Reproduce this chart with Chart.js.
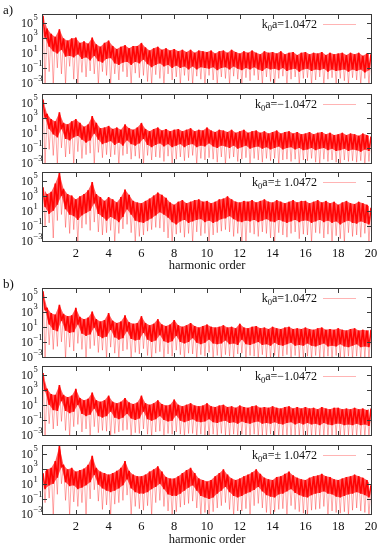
<!DOCTYPE html>
<html>
<head>
<meta charset="utf-8">
<script src="https://cdn.jsdelivr.net/npm/chart.js@4.4.0/dist/chart.umd.min.js"></script>
<style>
  body { margin: 0; background: #fff; width: 380px; height: 550px; position: relative; overflow: hidden; font-family: "Liberation Serif", "DejaVu Serif", serif; color: #111; }
  canvas { position: absolute; left: 0; }
  .txt { position: absolute; white-space: nowrap; }
  .tag { font-size: 13px; left: 3px; }
  .xlab { font-size: 12.5px; width: 380px; left: 17px; text-align: center; }
  .key { font-size: 12px; right: 63px; line-height: 16px; text-align: right; }
  .key sub { font-size: 8.5px; vertical-align: -3px; line-height: 0; }
</style>
</head>
<body>
<script>
// harmonic spacing of the sampled values (x = index * STEP); band bottom and dips sit halfway between samples
const STEP = 0.25;
const xTicks = [2, 4, 6, 8, 10, 12, 14, 16, 18, 20];
const yTicks = [-3, -1, 1, 3, 5]; // exponents of 10

// values are log10 of the spectrum
// hi = top of the trace, lo = bottom of the dense band, dip = deep minima
const a1Hi = [5.9,4.2,3.5,3.1, 4.1,2.9,2.6,2.9, 3.0,2.3,2.5,2.2, 3.0,2.1,1.8,2.3, 2.6,1.9,1.5,1.8,
  2.0,1.6,1.9,1.9, 2.3,1.7,1.3,1.6, 1.8,1.4,1.6,1.3, 1.5,1.2,1.4,1.1, 1.4,1.0,1.3,1.2,
  1.1,1.3,0.9,1.2, 1.3,1.0,1.4,1.1, 0.9,1.2,1.0,1.3, 1.0,0.8,1.2,1.0, 1.1,0.9,1.2,0.8,
  1.0,1.1,0.7,1.0, 1.1,0.8,1.0,0.9, 1.1,0.7,1.0,0.8, 0.9,1.0,0.7,1.0, 0.8,1.0,0.6,0.9, 0.8];
const a1Lo = [3.0,1.8,1.2,0.9, 1.4,0.5,0.6,0.4, 0.8,0.2,0.4,0.0, 0.6,-0.1,-0.3,0.2, 0.3,-0.4,-0.6,-0.3,
  -0.2,-0.6,-0.2,-0.4, 0.1,-0.5,-0.9,-0.6, -0.4,-0.8,-0.6,-1.0, -0.7,-1.0,-0.8,-1.2, -0.8,-1.2,-0.9,-1.0,
  -1.1,-0.9,-1.3,-1.0, -0.9,-1.2,-0.8,-1.1, -1.3,-1.0,-1.2,-0.9, -1.2,-1.4,-1.0,-1.2, -1.1,-1.3,-1.0,-1.4,
  -1.2,-1.1,-1.5,-1.2, -1.1,-1.4,-1.2,-1.3, -1.1,-1.5,-1.2,-1.4, -1.3,-1.2,-1.5,-1.2, -1.4,-1.2,-1.6,-1.3, -1.4];
const a1Dip = [-3.2,-1.5,-3.2,-1.0, -1.8,-3.2,-0.8,-2.5, -3.2,-1.6,-2.2,-1.4, -1.8,-3.2,-1.5,-2.0, -3.2,-1.8,-2.6,-1.5,
  -2.2,-3.2,-1.7,-2.3, -2.0,-2.8,-3.2,-1.9, -2.4,-3.2,-1.8,-2.6, -2.2,-3.2,-2.0,-2.7, -3.2,-2.1,-2.5,-3.2,
  -2.0,-2.6,-3.2,-2.2, -2.4,-3.2,-2.1,-2.5, -3.2,-2.3,-2.7,-2.0, -2.6,-3.2,-2.2,-2.8, -3.2,-2.4,-2.1,-3.2,
  -2.5,-2.2,-3.2,-2.4, -2.3,-3.2,-2.6,-2.2, -3.2,-2.5,-2.3,-3.2, -2.4,-2.7,-3.2,-2.3, -2.6,-3.2,-2.4,-3.2];

const a2Hi = [5.4,3.5,2.8,2.5, 3.7,2.3,2.1,2.5, 2.8,2.3,1.8,2.1, 3.2,2.3,1.6,1.7, 1.9,1.5,1.7,1.4,
  2.1,1.6,1.4,1.7, 2.3,1.5,1.2,1.5, 1.7,1.3,1.5,1.2, 1.4,1.5,1.2,1.4, 1.6,1.2,1.4,1.3,
  1.7,1.3,1.1,1.4, 1.3,1.1,1.4,1.0, 1.2,1.4,1.0,1.2, 1.3,1.0,1.2,0.9, 1.1,1.3,0.9,1.1,
  1.2,0.9,1.1,0.8, 0.9,1.1,0.8,1.0, 1.1,0.8,1.0,0.7, 0.8,1.0,0.7,0.9, 0.8,0.6,0.9,0.7, 0.5];
const a2Lo = [3.0,1.5,0.8,0.4, 1.5,0.2,0.0,0.4, 0.6,0.1,-0.3,0.0, 0.9,0.1,-0.5,-0.3, -0.1,-0.6,-0.3,-0.7,
  0.0,-0.5,-0.7,-0.4, 0.2,-0.6,-0.9,-0.6, -0.4,-0.8,-0.5,-0.9, -0.7,-0.5,-0.9,-0.6, -0.5,-0.9,-0.7,-0.8,
  -0.4,-0.8,-1.0,-0.7, -0.8,-1.0,-0.7,-1.1, -0.9,-0.7,-1.1,-0.9, -0.8,-1.1,-0.9,-1.2, -1.0,-0.8,-1.2,-1.0,
  -0.9,-1.2,-1.0,-1.3, -1.2,-1.0,-1.3,-1.1, -1.0,-1.3,-1.1,-1.4, -1.3,-1.1,-1.4,-1.2, -1.3,-1.5,-1.2,-1.4, -1.6];
const a2Dip = [-3.2,-1.2,-2.0,-3.2, -1.0,-2.2,-1.8,-3.2, -1.5,-2.4,-1.9,-1.7, -3.2,-1.6,-2.3,-1.9, -2.2,-1.9,-3.2,-2.0,
  -1.8,-2.5,-2.1,-2.4, -3.2,-2.0,-2.6,-2.2, -2.3,-2.8,-2.1,-3.2, -2.5,-2.2,-2.7,-2.3, -2.0,-3.2,-2.4,-2.6,
  -2.3,-2.5,-2.9,-2.2, -3.2,-2.4,-2.2,-2.8, -2.5,-2.3,-3.2,-2.4, -2.6,-2.9,-2.4,-2.7, -2.4,-3.2,-2.6,-2.5,
  -2.8,-2.5,-3.2,-2.6, -2.7,-2.4,-2.9,-3.2, -2.5,-2.8,-2.6,-2.9, -3.2,-2.6,-2.8,-2.7, -2.9,-2.7,-3.2,-2.8];

const a3Hi = [4.1,3.2,3.5,4.6, 6.0,3.9,3.2,3.0, 2.5,2.9,3.2,3.7, 4.8,3.2,2.8,2.3, 2.8,2.5,2.1,2.8,
  3.8,3.1,2.3,2.1, 2.0,2.3,2.6,3.0, 3.4,3.1,2.7,2.1, 1.8,2.2,2.4,2.0, 2.2,2.4,2.5,2.2,
  2.3,2.0,2.2,2.5, 2.6,2.9,2.5,2.2, 2.1,2.3,2.2,2.4, 2.1,2.3,2.5,2.2, 2.1,2.4,2.2,2.0,
  2.2,2.4,2.1,2.3, 2.3,2.0,2.2,2.4, 2.1,2.3,2.0,2.2, 1.8,2.1,2.3,2.0, 1.9,2.2,2.0,1.8, 1.4];
const a3Lo = [1.5,0.6,1.0,1.8, 3.0,1.2,0.5,0.3, -0.2,0.4,0.7,1.0, 2.0,0.6,0.2,-0.3, 0.2,-0.1,-0.5,0.2,
  1.2,0.5,-0.3,-0.5, -0.6,-0.3,0.0,0.4, 0.8,0.5,0.1,-0.5, -0.8,-0.4,-0.2,-0.6, -0.4,-0.2,-0.1,-0.5,
  -0.3,-0.6,-0.4,-0.1, 0.0,0.3,-0.1,-0.4, -0.5,-0.3,-0.4,-0.2, -0.5,-0.3,-0.1,-0.4, -0.5,-0.2,-0.4,-0.6,
  -0.4,-0.2,-0.5,-0.3, -0.3,-0.6,-0.4,-0.2, -0.5,-0.3,-0.6,-0.4, -0.8,-0.5,-0.3,-0.6, -0.7,-0.4,-0.6,-0.8, -1.0];
const a3Dip = [-1.0,-0.6,-2.6,-0.3, 0.5,-1.2,-2.0,-1.5, -3.2,-1.3,-0.8,-1.6, -0.5,-1.8,-2.2,-1.9, -1.6,-3.2,-2.0,-1.4,
  -0.8,-1.9,-3.2,-2.4, -2.2,-1.7,-1.5,-1.2, -1.3,-1.8,-2.6,-3.2, -2.1,-1.9,-2.5,-2.0, -3.2,-1.8,-2.3,-2.0,
  -3.2,-2.2,-1.9,-1.7, -1.5,-1.8,-2.4,-2.0, -3.2,-3.2,-1.9,-2.1, -2.4,-1.8,-2.0,-2.6, -3.2,-1.9,-2.2,-2.5,
  -2.0,-1.8,-2.7,-2.1, -2.2,-3.2,-1.9,-2.0, -2.6,-2.1,-3.2,-2.3, -2.7,-3.2,-1.9,-2.4, -2.2,-2.5,-2.0,-3.2];

const b1Hi = [5.7,3.5,2.8,2.6, 3.9,2.7,2.4,2.5, 3.5,2.3,2.0,2.2, 3.0,2.0,1.7,1.9, 2.8,1.8,1.5,1.7,
  2.5,1.6,1.4,1.5, 2.4,1.5,1.2,1.4, 2.0,1.3,1.1,1.3, 1.9,1.2,1.0,1.2, 1.5,1.1,0.9,1.1,
  1.3,1.0,0.9,1.0, 1.2,0.9,1.0,0.8, 1.4,0.9,0.8,1.0, 1.1,0.8,0.9,0.7, 1.0,0.8,0.7,0.9,
  1.0,0.7,0.8,0.7, 0.9,0.7,0.6,0.8, 0.9,0.6,0.7,0.6, 0.8,0.6,0.5,0.7, 0.8,0.5,0.6,0.5, 0.6];
const b1Lo = [3.2,1.3,0.6,0.4, 1.8,0.5,0.2,0.3, 1.3,0.1,-0.2,0.0, 0.9,-0.2,-0.5,-0.3, 0.6,-0.4,-0.7,-0.5,
  0.4,-0.6,-0.8,-0.7, 0.2,-0.7,-1.0,-0.8, -0.1,-0.9,-1.1,-0.9, -0.2,-1.0,-1.2,-1.0, -0.5,-1.1,-1.3,-1.1,
  -0.7,-1.2,-1.3,-1.2, -0.8,-1.3,-1.2,-1.4, -0.7,-1.3,-1.4,-1.2, -1.0,-1.4,-1.3,-1.5, -1.1,-1.4,-1.5,-1.3,
  -1.1,-1.5,-1.4,-1.5, -1.2,-1.5,-1.6,-1.4, -1.2,-1.6,-1.5,-1.6, -1.3,-1.6,-1.7,-1.5, -1.3,-1.7,-1.6,-1.7, -1.6];
const b1Dip = [-3.2,-1.4,-2.0,-1.6, -1.0,-3.2,-1.7,-2.2, -1.2,-2.0,-3.2,-1.9, -1.5,-2.4,-2.1,-3.2, -1.7,-2.5,-3.2,-2.2,
  -2.0,-3.2,-2.4,-2.6, -1.9,-2.8,-3.2,-2.5, -2.3,-3.2,-2.6,-2.9, -2.1,-2.7,-3.2,-2.5, -2.6,-3.2,-2.7,-2.9,
  -2.4,-3.2,-2.8,-3.2, -2.7,-2.9,-3.2,-2.6, -2.5,-3.2,-2.8,-2.9, -3.2,-2.7,-3.0,-3.2, -2.8,-3.2,-2.9,-2.7,
  -3.2,-2.8,-3.0,-3.2, -2.9,-3.2,-2.8,-3.1, -3.2,-2.9,-3.2,-2.8, -3.0,-3.2,-2.9,-3.2, -2.9,-3.2,-3.0,-3.2];

const b2Hi = [5.2,3.1,2.4,2.3, 3.6,2.3,2.0,2.2, 3.1,1.9,1.6,1.8, 2.6,1.6,1.4,1.6, 2.2,1.4,1.2,1.4,
  1.9,1.3,1.1,1.3, 2.2,1.2,1.0,1.2, 1.6,1.1,0.9,1.0, 1.7,1.0,0.8,1.0, 1.2,0.9,0.8,0.9,
  1.2,0.8,0.7,0.9, 1.0,0.7,0.8,0.6, 0.9,0.7,0.6,0.8, 0.9,0.6,0.7,0.6, 0.8,0.6,0.5,0.7,
  0.8,0.5,0.7,0.5, 0.7,0.5,0.6,0.4, 0.7,0.5,0.4,0.6, 0.6,0.4,0.5,0.4, 0.6,0.4,0.5,0.3, 0.5];
const b2Lo = [2.8,1.0,0.3,0.2, 1.5,0.2,-0.1,0.1, 1.0,-0.2,-0.5,-0.3, 0.5,-0.5,-0.7,-0.5, 0.1,-0.7,-0.9,-0.7,
  -0.2,-0.8,-1.0,-0.8, 0.1,-0.9,-1.1,-0.9, -0.5,-1.0,-1.2,-1.1, -0.4,-1.1,-1.3,-1.1, -0.9,-1.2,-1.3,-1.2,
  -0.9,-1.3,-1.4,-1.2, -1.1,-1.4,-1.3,-1.5, -1.2,-1.4,-1.5,-1.3, -1.2,-1.5,-1.4,-1.5, -1.3,-1.5,-1.6,-1.4,
  -1.3,-1.6,-1.4,-1.6, -1.4,-1.6,-1.5,-1.7, -1.4,-1.6,-1.7,-1.5, -1.5,-1.7,-1.6,-1.7, -1.5,-1.7,-1.6,-1.8, -1.7];
const b2Dip = [-3.2,-1.5,-2.2,-1.8, -1.2,-2.4,-3.2,-1.9, -1.6,-2.6,-2.2,-3.2, -1.9,-2.7,-2.4,-2.5, -3.2,-2.8,-2.6,-2.4,
  -2.3,-3.2,-2.7,-2.8, -2.2,-2.9,-3.2,-2.6, -2.5,-3.2,-2.8,-2.9, -2.6,-2.9,-3.2,-2.8, -2.8,-3.2,-2.9,-3.0,
  -3.2,-2.9,-3.1,-2.8, -3.0,-3.2,-2.9,-3.2, -2.9,-3.1,-3.2,-2.9, -3.2,-3.0,-3.2,-2.9, -3.0,-3.2,-3.1,-3.2,
  -3.2,-3.0,-3.2,-3.1, -3.0,-3.2,-3.1,-3.2, -3.2,-3.1,-3.2,-3.0, -3.1,-3.2,-3.0,-3.2, -3.2,-3.1,-3.2,-3.1];

const b3Hi = [2.4,2.9,3.1,4.0, 6.0,3.5,2.9,3.1, 2.6,2.8,3.0,3.5, 4.7,3.1,2.6,2.4, 2.2,2.4,2.7,3.1,
  4.0,2.7,2.2,2.0, 2.0,2.2,2.6,2.9, 3.3,2.6,1.9,1.7, 1.7,2.0,2.4,2.8, 3.1,2.4,1.7,1.5,
  1.3,1.5,2.0,2.4, 2.9,2.2,1.7,1.5, 1.7,2.0,2.2,2.5, 2.9,2.3,1.8,1.6, 1.5,1.9,2.0,2.3,
  2.6,2.1,1.8,1.6, 1.5,1.8,2.0,2.1, 2.3,2.0,1.9,1.6, 1.5,1.7,1.9,2.0, 2.2,2.0,1.8,1.5, 0.8];
const b3Lo = [0.3,0.8,1.0,1.8, 3.2,1.2,0.7,0.8, 0.3,0.5,0.8,1.2, 2.2,0.9,0.4,0.1, -0.1,0.1,0.4,0.8,
  1.6,0.4,-0.1,-0.3, -0.3,-0.1,0.3,0.6, 1.0,0.3,-0.4,-0.6, -0.6,-0.3,0.1,0.5, 0.8,0.1,-0.6,-0.8,
  -1.0,-0.8,-0.3,0.1, 0.6,-0.1,-0.6,-0.8, -0.6,-0.3,-0.1,0.2, 0.6,0.0,-0.5,-0.7, -0.8,-0.4,-0.3,0.0,
  0.3,-0.2,-0.5,-0.7, -0.8,-0.5,-0.3,-0.2, 0.0,-0.3,-0.4,-0.7, -0.8,-0.6,-0.4,-0.3, -0.1,-0.3,-0.5,-0.8, -1.5];
const b3Dip = [-1.5,-0.9,-3.2,-0.4, 1.0,-1.2,-3.2,-1.4, -2.0,-1.5,-3.2,-1.0, 0.2,-1.3,-2.4,-1.8, -3.2,-1.7,-1.5,-1.2,
  -0.5,-3.2,-2.0,-2.3, -2.5,-1.9,-3.2,-1.5, -1.2,-2.0,-2.6,-3.2, -2.7,-2.1,-1.8,-1.6, -1.3,-2.2,-3.2,-2.8,
  -3.2,-2.7,-2.2,-1.9, -1.5,-2.4,-3.2,-2.6, -2.6,-2.3,-3.2,-1.9, -1.6,-2.2,-2.8,-3.2, -2.7,-2.4,-2.3,-3.2,
  -1.9,-2.4,-2.7,-2.9, -3.2,-2.5,-2.4,-2.3, -2.0,-3.2,-2.6,-2.8, -2.9,-2.7,-3.2,-2.5, -2.2,-2.6,-2.8,-3.2];

const panels = [
  { top: 15,  key: 'k<sub>0</sub>a=1.0472',   hi: a1Hi, lo: a1Lo, dip: a1Dip, axis: false },
  { top: 95,  key: 'k<sub>0</sub>a=\u22121.0472', hi: a2Hi, lo: a2Lo, dip: a2Dip, axis: false },
  { top: 173, key: 'k<sub>0</sub>a=\u00b1 1.0472', hi: a3Hi, lo: a3Lo, dip: a3Dip, axis: true },
  { top: 289, key: 'k<sub>0</sub>a=1.0472',   hi: b1Hi, lo: b1Lo, dip: b1Dip, axis: false },
  { top: 367, key: 'k<sub>0</sub>a=\u22121.0472', hi: b2Hi, lo: b2Lo, dip: b2Dip, axis: false },
  { top: 446, key: 'k<sub>0</sub>a=\u00b1 1.0472', hi: b3Hi, lo: b3Lo, dip: b3Dip, axis: true }
];

const PANEL_H = 68;
const PAD = 8;
const SERIF = '"Liberation Serif", "DejaVu Serif", serif';

// gnuplot-like frame, inward ticks, 10^n labels and key sample
const framePlugin = {
  id: 'frame',
  afterDraw(chart) {
    const { ctx, chartArea: a, scales } = chart;
    const opts = chart.options.plugins.frame;
    ctx.save();
    ctx.strokeStyle = '#3a3a3a';
    ctx.lineWidth = 1;
    ctx.strokeRect(a.left - 0.5, a.top - 0.5, a.right - a.left + 1, a.bottom - a.top + 1);
    ctx.beginPath();
    xTicks.forEach(t => {
      if (t >= 20) return;
      const x = Math.round(scales.x.getPixelForValue(t)) + 0.5;
      ctx.moveTo(x, a.bottom); ctx.lineTo(x, a.bottom - 4);
      ctx.moveTo(x, a.top); ctx.lineTo(x, a.top + 4);
    });
    yTicks.forEach(e => {
      const y = Math.round(scales.y.getPixelForValue(Math.pow(10, e))) + 0.5;
      ctx.moveTo(a.left, y); ctx.lineTo(a.left + 4, y);
      ctx.moveTo(a.right, y); ctx.lineTo(a.right - 4, y);
    });
    ctx.stroke();

    ctx.fillStyle = '#111';
    ctx.textBaseline = 'middle';
    yTicks.forEach(e => {
      const y = scales.y.getPixelForValue(Math.pow(10, e));
      ctx.font = '12px ' + SERIF;
      ctx.textAlign = 'right';
      ctx.fillText('10', 33, y + 1);
      ctx.font = '8.5px ' + SERIF;
      ctx.textAlign = 'left';
      ctx.fillText(e < 0 ? '\u2212' + (-e) : String(e), 33.5, y - 4.5);
    });
    if (opts.axis) {
      ctx.font = '12.5px ' + SERIF;
      ctx.textAlign = 'center';
      xTicks.forEach(t => {
        ctx.fillText(String(t), scales.x.getPixelForValue(t), a.bottom + 13);
      });
    }
    // key sample line
    ctx.strokeStyle = '#ffb4b4';
    ctx.beginPath();
    ctx.moveTo(323, a.top + 9.5);
    ctx.lineTo(356, a.top + 9.5);
    ctx.stroke();
    ctx.restore();
  }
};

function toPoints(vals, offset) {
  return vals.map((v, i) => ({ x: i * STEP + offset, y: Math.pow(10, v) }));
}

// trace that runs from each sample top down to the value halfway to the next sample
function zigzag(hi, low) {
  const pts = [];
  hi.forEach((v, i) => {
    pts.push({ x: i * STEP, y: Math.pow(10, v) });
    if (i < hi.length - 1) pts.push({ x: i * STEP + STEP / 2, y: Math.pow(10, low[i]) });
  });
  return pts;
}

panels.forEach(p => {
  const h = PANEL_H + PAD * 2 + (p.axis ? 22 : 0);
  const canvas = document.createElement('canvas');
  canvas.width = 380;
  canvas.height = h;
  canvas.style.top = (p.top - PAD) + 'px';
  document.body.appendChild(canvas);

  const key = document.createElement('div');
  key.className = 'txt key';
  key.style.top = (p.top + 1) + 'px';
  key.innerHTML = p.key;
  document.body.appendChild(key);

  new Chart(canvas, {
    type: 'line',
    data: {
      datasets: [
        // dense band: zigzag between the top and the band bottom
        { data: zigzag(p.hi, p.lo), borderColor: 'rgba(255,0,0,0.95)', borderWidth: 1.6,
          borderJoinStyle: 'bevel', pointRadius: 0, fill: false },
        // thin trace down to the deep minima
        { data: zigzag(p.hi, p.dip), borderColor: 'rgba(255,0,0,0.38)', borderWidth: 0.9,
          pointRadius: 0, fill: false },
        // body of the band
        { data: toPoints(p.hi, 0), borderWidth: 0, pointRadius: 0,
          fill: '+1', backgroundColor: 'rgba(255,0,0,0.64)' },
        { data: toPoints(p.lo.slice(0, p.hi.length - 1), STEP / 2), borderWidth: 0, pointRadius: 0, fill: false }
      ]
    },
    options: {
      responsive: false,
      animation: false,
      events: [],
      layout: { padding: { left: 43, right: 9, top: PAD, bottom: PAD + (p.axis ? 22 : 0) } },
      plugins: { legend: { display: false }, tooltip: { enabled: false }, frame: { axis: p.axis } },
      scales: {
        x: { type: 'linear', display: false, min: 0, max: 20 },
        y: { type: 'logarithmic', display: false, min: 1e-3, max: 1e6 }
      }
    },
    plugins: [framePlugin]
  });
});

// panel tags and axis titles
[['a)', 2], ['b)', 276]].forEach(([t, y]) => {
  const d = document.createElement('div');
  d.className = 'txt tag';
  d.style.top = y + 'px';
  d.textContent = t;
  document.body.appendChild(d);
});
[258, 532].forEach(y => {
  const d = document.createElement('div');
  d.className = 'txt xlab';
  d.style.top = y + 'px';
  d.textContent = 'harmonic order';
  document.body.appendChild(d);
});
</script>
</body>
</html>
